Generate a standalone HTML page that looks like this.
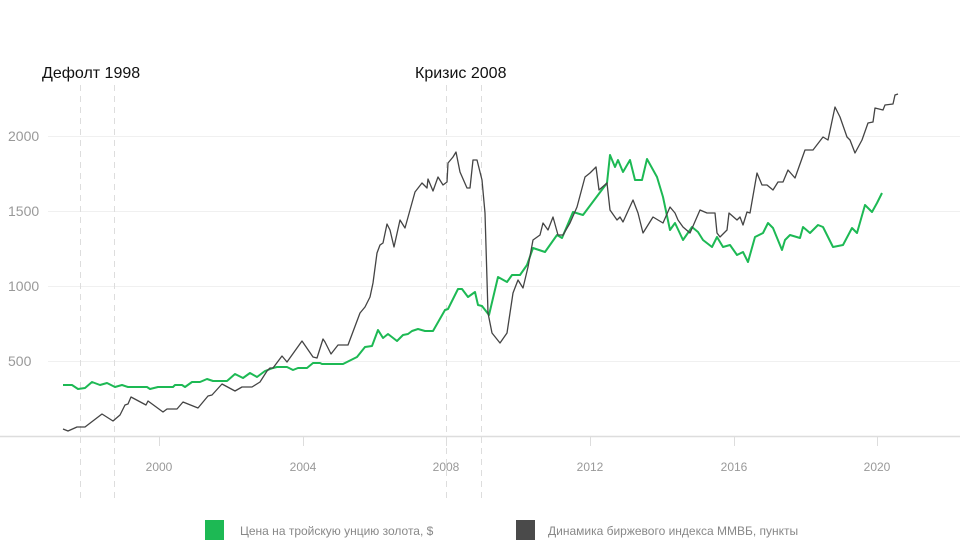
<!DOCTYPE html>
<html><head><meta charset="utf-8"><style>
body{margin:0;background:#fff;width:960px;height:540px;overflow:hidden;font-family:"Liberation Sans",sans-serif}
</style></head><body>
<svg width="960" height="540" viewBox="0 0 960 540" xmlns="http://www.w3.org/2000/svg" font-family="Liberation Sans, sans-serif">
<g stroke="#f0f0f0" stroke-width="1">
<line x1="48" x2="960" y1="136.5" y2="136.5"/><line x1="48" x2="960" y1="211.5" y2="211.5"/>
<line x1="48" x2="960" y1="286.5" y2="286.5"/><line x1="48" x2="960" y1="361.5" y2="361.5"/>
</g>
<g stroke="#ddd" stroke-width="1" stroke-dasharray="6,5">
<line x1="80.5" x2="80.5" y1="85" y2="500"/><line x1="114.5" x2="114.5" y1="85" y2="500"/>
<line x1="446.5" x2="446.5" y1="85" y2="500"/><line x1="481.5" x2="481.5" y1="85" y2="500"/>
</g>
<line x1="0" x2="960" y1="436.5" y2="436.5" stroke="#ddd" stroke-width="1.5"/>
<g stroke="#ddd"><line x1="159.5" x2="159.5" y1="437" y2="446"/><line x1="303.5" x2="303.5" y1="437" y2="446"/><line x1="446.5" x2="446.5" y1="437" y2="446"/><line x1="590.5" x2="590.5" y1="437" y2="446"/><line x1="734.5" x2="734.5" y1="437" y2="446"/><line x1="877.5" x2="877.5" y1="437" y2="446"/></g>
<g fill="#999" font-size="14"><text x="8" y="141">2000</text><text x="8" y="216">1500</text><text x="8" y="291">1000</text><text x="8" y="366">500</text></g>
<g fill="#999" font-size="12" text-anchor="middle"><text x="159" y="471">2000</text><text x="303" y="471">2004</text><text x="446" y="471">2008</text><text x="590" y="471">2012</text><text x="734" y="471">2016</text><text x="877" y="471">2020</text></g>
<g fill="#111" font-size="16"><text x="42" y="78">Дефолт 1998</text><text x="415" y="78">Кризис 2008</text></g>
<polyline fill="none" stroke="#1db954" stroke-width="2" stroke-linejoin="round" points="63,385 72,385 78,389 85,388 92,382 100,385 107,383 115,387 122,385 128,387 147,387 150,389 158,387 173,387 175,385 182,385 185,387 192,382 200,382 207,379 213,381 227,381 235,374 243,378 250,373 257,377 265,371 273,368 277,367 287,367 293,370 298,368 307,368 313,363 320,363 322,364 343,364 357,357 365,347 372,346 378,330 383,338 388,334 397,341 403,335 408,334 412,331 418,329 425,331 433,331 445,310 448,309 458,289 462,289 468,297 475,292 478,305 482,306 489,315 498,277 507,282 512,275 520,275 527,265 533,248 545,252 557,235 562,238 573,212 583,215 607,183 610,155 615,167 618,160 623,172 630,160 635,180 642,180 647,159 657,177 663,197 670,230 675,223 683,240 692,227 698,232 703,240 712,247 717,237 723,247 730,245 737,255 743,252 748,262 755,237 763,233 768,223 773,228 782,250 785,240 790,235 800,238 803,227 810,233 818,225 823,227 833,247 843,245 852,228 857,233 865,205 872,212 877,203 882,193"/>
<polyline fill="none" stroke="#444" stroke-width="1.3" stroke-linejoin="round" points="63,429 68,431 77,427 85,427 102,414 113,421 120,415 125,405 128,404 131,397 146,405 148,401 163,412 167,409 177,409 183,402 198,408 208,396 212,395 222,384 235,391 242,387 252,387 260,382 267,371 270,368 273,368 282,356 287,362 302,341 313,357 317,358 323,339 325,342 331,354 338,345 348,345 360,313 365,307 370,297 373,283 377,253 380,245 383,243 387,224 390,230 394,247 400,220 405,228 415,192 422,183 427,188 428,179 433,191 438,177 443,185 447,182 448,163 453,157 456,152 460,172 467,188 470,188 473,160 477,160 482,180 485,213 488,313 492,333 500,343 507,333 513,293 518,280 523,288 528,267 533,240 540,235 543,223 548,230 553,217 558,235 563,235 570,223 577,207 585,177 590,173 596,167 599,190 607,183 610,210 617,220 620,217 623,222 633,200 638,213 643,233 653,217 663,223 670,207 675,213 678,220 683,227 690,233 700,210 707,213 715,213 717,233 720,237 727,230 729,213 737,220 740,217 743,225 747,212 750,213 757,173 762,185 767,185 773,190 778,182 783,182 788,170 795,178 805,150 813,150 823,137 828,140 835,107 840,117 847,137 850,140 855,153 862,140 868,123 873,122 875,108 883,110 885,105 893,104 895,95 898,94"/>
<rect x="205" y="520" width="19" height="20" fill="#1db954"/>
<rect x="516" y="520" width="19" height="20" fill="#4a4a4a"/>
<g fill="#888" font-size="12"><text x="240" y="535">Цена на тройскую унцию золота, $</text><text x="548" y="535">Динамика биржевого индекса ММВБ, пункты</text></g>
</svg>
</body></html>
